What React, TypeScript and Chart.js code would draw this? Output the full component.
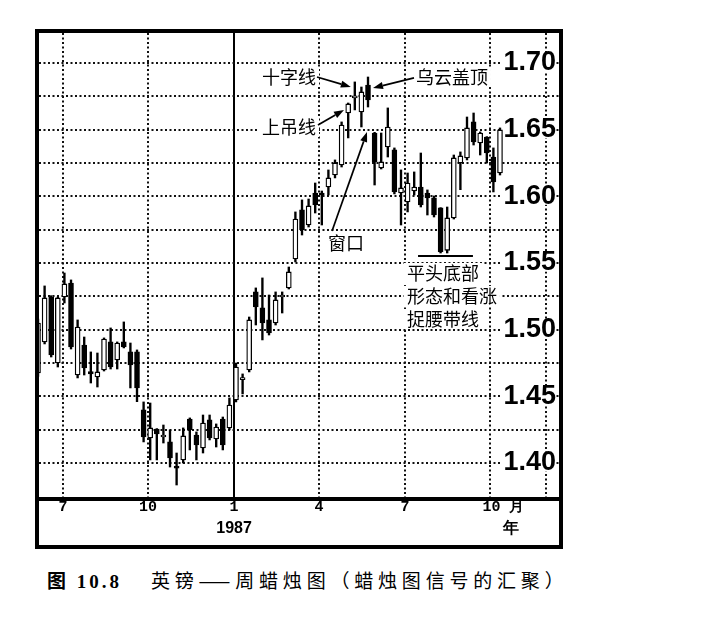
import React, { useEffect, useRef } from 'react';
import { Chart, registerables } from 'chart.js';

Chart.register(...registerables);

// Weekly OHLC, British pound (one candle per week, left to right)
const opens = [
  1.4675, 1.4908, 1.5245, 1.475, 1.5245, 1.535, 1.466, 1.4885, 1.4685, 1.4645,
  1.4698, 1.4908, 1.4773, 1.4908, 1.4833, 1.4833, 1.4398, 1.4188, 1.4255, 1.4195,
  1.4158, 1.3965, 1.4023, 1.433, 1.421, 1.4113, 1.4323, 1.418, 1.433, 1.4263,
  1.4473, 1.4625, 1.4698, 1.5283, 1.5163, 1.5073, 1.505, 1.5245, 1.5313, 1.553,
  1.5898, 1.5785, 1.6025, 1.6025, 1.607, 1.616, 1.6235, 1.6625, 1.6738, 1.6633,
  1.6835, 1.6475, 1.6213, 1.637, 1.6348, 1.6025, 1.5958, 1.604, 1.607, 1.6025,
  1.5988, 1.5913, 1.5595, 1.5838, 1.625, 1.6288, 1.6558, 1.64, 1.6445, 1.6295,
  1.6175,
];
const highs = [
  1.508, 1.5328, 1.5255, 1.5245, 1.5425, 1.5373, 1.5073, 1.4945, 1.4833, 1.4825,
  1.4938, 1.5013, 1.4908, 1.5058, 1.49, 1.4848, 1.4458, 1.445, 1.4258, 1.4285,
  1.4248, 1.4075, 1.4263, 1.4338, 1.4233, 1.436, 1.436, 1.4293, 1.4345, 1.4488,
  1.475, 1.4668, 1.5095, 1.5313, 1.5388, 1.526, 1.5283, 1.5283, 1.547, 1.5883,
  1.5973, 1.598, 1.61, 1.604, 1.6198, 1.6273, 1.6558, 1.67, 1.6858, 1.682,
  1.6895, 1.648, 1.6475, 1.6663, 1.6363, 1.6198, 1.6175, 1.6183, 1.6325, 1.6048,
  1.6003, 1.5915, 1.592, 1.631, 1.6333, 1.6595, 1.6625, 1.6483, 1.6448, 1.6363,
  1.6513,
];
const lows = [
  1.465, 1.4893, 1.4795, 1.472, 1.52, 1.4855, 1.4638, 1.466, 1.46, 1.457,
  1.469, 1.4705, 1.4705, 1.4863, 1.4563, 1.446, 1.4158, 1.4023, 1.4023, 1.415,
  1.397, 1.3835, 1.40, 1.4098, 1.4023, 1.4075, 1.4173, 1.412, 1.4098, 1.4248,
  1.4458, 1.4518, 1.4683, 1.5035, 1.4923, 1.496, 1.5035, 1.5125, 1.5305, 1.5508,
  1.571, 1.577, 1.5875, 1.5785, 1.601, 1.6138, 1.622, 1.6438, 1.6648, 1.652,
  1.667, 1.6085, 1.6205, 1.6295, 1.6018, 1.5785, 1.5883, 1.601, 1.592, 1.586,
  1.5845, 1.5575, 1.5575, 1.583, 1.605, 1.6273, 1.6385, 1.631, 1.625, 1.6033,
  1.616,
];
const closes = [
  1.505, 1.5238, 1.481, 1.5238, 1.5343, 1.487, 1.502, 1.4713, 1.4668, 1.4683,
  1.493, 1.472, 1.49, 1.487, 1.4735, 1.4563, 1.4195, 1.4263, 1.4218, 1.4198,
  1.4038, 1.3962, 1.4203, 1.4248, 1.4135, 1.43, 1.4188, 1.427, 1.4135, 1.4435,
  1.472, 1.4635, 1.5073, 1.517, 1.505, 1.4975, 1.5223, 1.526, 1.5433, 1.583,
  1.5748, 1.5928, 1.5935, 1.601, 1.6138, 1.625, 1.6535, 1.6693, 1.674, 1.6783,
  1.6723, 1.6258, 1.6258, 1.652, 1.6033, 1.6063, 1.61, 1.607, 1.5935, 1.5988,
  1.586, 1.5583, 1.5838, 1.6288, 1.6303, 1.6513, 1.6408, 1.6475, 1.6325, 1.6108,
  1.6498,
];

// Axis ticks (x measured in weeks from the first candle)
const monthTickPos = [3.79, 16.67, 29.7, 42.58, 55.6, 68.48, 76.97];
const monthTickLabels = ['7', '10', '1', '4', '7', '   10 月', ''];
const yearTickPos = [29.7, 71.67];
const yearTickLabels = ['1987', '年'];
const priceTicks = [1.4, 1.425, 1.45, 1.475, 1.5, 1.525, 1.55, 1.575, 1.6, 1.625, 1.65, 1.675, 1.7];
const priceLabels = ['1.40', '', '1.45', '', '1.50', '', '1.55', '', '1.60', '', '1.65', '', '1.70'];

// Annotations (data coordinates: week, price)
const notes = [
  { text: '十字线', x: 33.94, y: 1.6895 },
  { text: '乌云盖顶', x: 57.27, y: 1.6895 },
  { text: '上吊线', x: 33.94, y: 1.652 },
  { text: '窗口', x: 43.94, y: 1.565 },
  { text: '平头底部', x: 55.9, y: 1.5425 },
  { text: '形态和看涨', x: 55.9, y: 1.5253 },
  { text: '捉腰带线', x: 55.9, y: 1.508 },
];
const arrows = [
  { x1: 42.27, y1: 1.6895, x2: 47.4, y2: 1.682 },
  { x1: 56.97, y1: 1.6888, x2: 50.76, y2: 1.6813 },
  { x1: 42.42, y1: 1.6535, x2: 46.36, y2: 1.6648 },
  { x1: 44.55, y1: 1.574, x2: 49.85, y2: 1.6483 },
];
const bracket = { x1: 57.58, x2: 65.9, y: 1.5553 };

const annotationPlugin = {
  id: 'candleNotes',
  afterDatasetsDraw(chart: any) {
    const { ctx } = chart;
    const xs = chart.scales.x;
    const ys = chart.scales.y;
    ctx.save();
    ctx.font = '18px "Noto Sans CJK SC", sans-serif';
    ctx.textBaseline = 'middle';
    ctx.textAlign = 'left';
    for (const n of notes) {
      const px = xs.getPixelForValue(n.x);
      const py = ys.getPixelForValue(n.y);
      const w = ctx.measureText(n.text).width;
      ctx.fillStyle = '#fff';
      ctx.fillRect(px - 3, py - 10, w + 6, 20);
      ctx.fillStyle = '#000';
      ctx.fillText(n.text, px, py);
    }
    ctx.strokeStyle = '#000';
    ctx.fillStyle = '#000';
    for (const a of arrows) {
      const x1 = xs.getPixelForValue(a.x1);
      const y1 = ys.getPixelForValue(a.y1);
      const x2 = xs.getPixelForValue(a.x2);
      const y2 = ys.getPixelForValue(a.y2);
      const ang = Math.atan2(y2 - y1, x2 - x1);
      const len = 10;
      const half = 3.6;
      const bx = x2 - len * Math.cos(ang);
      const by = y2 - len * Math.sin(ang);
      ctx.lineWidth = 1.7;
      ctx.beginPath();
      ctx.moveTo(x1, y1);
      ctx.lineTo(bx, by);
      ctx.stroke();
      ctx.beginPath();
      ctx.moveTo(x2, y2);
      ctx.lineTo(bx + half * Math.sin(ang), by - half * Math.cos(ang));
      ctx.lineTo(bx - half * Math.sin(ang), by + half * Math.cos(ang));
      ctx.closePath();
      ctx.fill();
    }
    const bx1 = xs.getPixelForValue(bracket.x1);
    const bx2 = xs.getPixelForValue(bracket.x2);
    const bpy = ys.getPixelForValue(bracket.y);
    ctx.lineWidth = 2;
    ctx.beginPath();
    ctx.moveTo(bx1, bpy);
    ctx.lineTo(bx2, bpy);
    ctx.stroke();
    ctx.restore();
  },
};

const X_MIN = 0.15;
const X_MAX = 78.94;
const GRID_DASH = [2, 2.5];

const noPad = (s: any) => {
  s.paddingTop = 0;
  s.paddingBottom = 0;
  s.paddingLeft = 0;
  s.paddingRight = 0;
};

export default function App() {
  const ref = useRef<HTMLCanvasElement>(null);

  useEffect(() => {
    const canvas = ref.current;
    if (!canvas) return;
    const chart = new Chart(canvas, {
      type: 'bar',
      data: {
        datasets: [
          {
            label: 'body',
            data: opens.map((o, i) => ({ x: i, y: [o, closes[i]] })) as any,
            backgroundColor: opens.map((o, i) => (closes[i] >= o ? '#ffffff' : '#000000')),
            borderColor: '#000',
            borderWidth: 1.3,
            borderSkipped: false,
            barThickness: 5,
            minBarLength: 2,
            grouped: false,
            order: 0,
          } as any,
          {
            label: 'wick',
            data: lows.map((l, i) => ({ x: i, y: [l, highs[i]] })) as any,
            backgroundColor: '#000',
            borderWidth: 0,
            barThickness: 1.7,
            grouped: false,
            order: 1,
          } as any,
        ],
      },
      options: {
        responsive: false,
        maintainAspectRatio: false,
        devicePixelRatio: 1,
        animation: false,
        events: [],
        layout: { padding: 0, autoPadding: false },
        plugins: { legend: { display: false }, tooltip: { enabled: false } },
        scales: {
          x: {
            type: 'linear',
            position: 'bottom',
            weight: 0,
            min: X_MIN,
            max: X_MAX,
            offset: false,
            afterBuildTicks: (s: any) => {
              s.ticks = monthTickPos.map((v) => ({ value: v }));
            },
            afterFit: (s: any) => {
              s.height = 20;
              noPad(s);
            },
            grid: {
              offset: false,
              drawTicks: false,
              lineWidth: 2,
              color: (c: any) => (c.index === 2 ? 'rgba(0,0,0,0)' : '#111'),
              borderDash: GRID_DASH,
            } as any,
            border: { display: false, dash: GRID_DASH },
            ticks: {
              autoSkip: false,
              maxRotation: 0,
              minRotation: 0,
              padding: 2,
              color: '#000',
              font: { family: '"Liberation Mono", monospace', size: 15, weight: 'bold', lineHeight: 1.1 },
              callback: (_v: any, i: number) => monthTickLabels[i],
            },
          },
          x2: {
            type: 'linear',
            position: 'bottom',
            weight: 1,
            min: X_MIN,
            max: X_MAX,
            offset: false,
            afterBuildTicks: (s: any) => {
              s.ticks = yearTickPos.map((v) => ({ value: v }));
            },
            afterFit: (s: any) => {
              s.height = 28;
              noPad(s);
            },
            grid: {
              offset: false,
              drawTicks: false,
              lineWidth: 2,
              color: (c: any) => (c.index === 0 ? '#000' : 'rgba(0,0,0,0)'),
              borderDash: [],
            } as any,
            border: { display: false, dash: [] },
            ticks: {
              autoSkip: false,
              maxRotation: 0,
              minRotation: 0,
              padding: 2,
              color: '#000',
              font: { family: '"Liberation Sans", Arial, sans-serif', size: 16, weight: 'bold', lineHeight: 1.2 },
              callback: (_v: any, i: number) => yearTickLabels[i],
            },
          },
          y: {
            type: 'linear',
            position: 'right',
            min: 1.3745,
            max: 1.7225,
            beginAtZero: false,
            afterBuildTicks: (s: any) => {
              s.ticks = priceTicks.map((v) => ({ value: v }));
            },
            afterFit: (s: any) => {
              s.width = 0;
              noPad(s);
            },
            grid: {
              drawTicks: false,
              lineWidth: 2,
              color: '#111',
              borderDash: GRID_DASH,
            } as any,
            border: { display: false, dash: GRID_DASH },
            ticks: {
              autoSkip: false,
              mirror: true,
              padding: -3,
              color: '#000',
              font: { family: '"Liberation Sans", Arial, sans-serif', size: 27, weight: 'bold', lineHeight: 1 },
              showLabelBackdrop: true,
              backdropColor: (c: any) => (priceLabels[c.index] ? '#fff' : 'rgba(0,0,0,0)'),
              backdropPadding: { top: -5, bottom: -5, left: 3, right: 0 },
              callback: (_v: any, i: number) => priceLabels[i],
            } as any,
          },
        },
      } as any,
      plugins: [annotationPlugin],
    });
    return () => chart.destroy();
  }, []);

  return (
    <div style={{ position: 'absolute', left: 0, top: 0, width: 723, height: 630, background: '#fff' }}>
      <div
        style={{
          position: 'absolute',
          left: 35,
          top: 29,
          width: 528,
          height: 520,
          border: '4px solid #000',
          boxSizing: 'border-box',
        }}
      />
      <canvas
        ref={ref}
        width={520}
        height={512}
        style={{ position: 'absolute', left: 39, top: 33, width: 520, height: 512 }}
      />
      <div style={{ position: 'absolute', left: 39, top: 497, width: 520, height: 4, background: '#000' }} />
      <div
        style={{
          position: 'absolute',
          left: 47,
          top: 569,
          fontSize: 19,
          lineHeight: '22px',
          whiteSpace: 'nowrap',
          fontWeight: 'bold',
          letterSpacing: 3,
          fontFamily: '"Liberation Serif", "Noto Sans CJK SC", serif',
        }}
      >
        <span style={{ fontFamily: '"Noto Sans CJK SC", sans-serif' }}>图</span> 10.8
      </div>
      <div
        style={{
          position: 'absolute',
          left: 151,
          top: 569,
          fontSize: 19,
          lineHeight: '22px',
          whiteSpace: 'nowrap',
          letterSpacing: 4.8,
          fontFamily: '"Noto Sans CJK SC", sans-serif',
        }}
      >
        英镑——周蜡烛图（蜡烛图信号的汇聚）
      </div>
    </div>
  );
}
